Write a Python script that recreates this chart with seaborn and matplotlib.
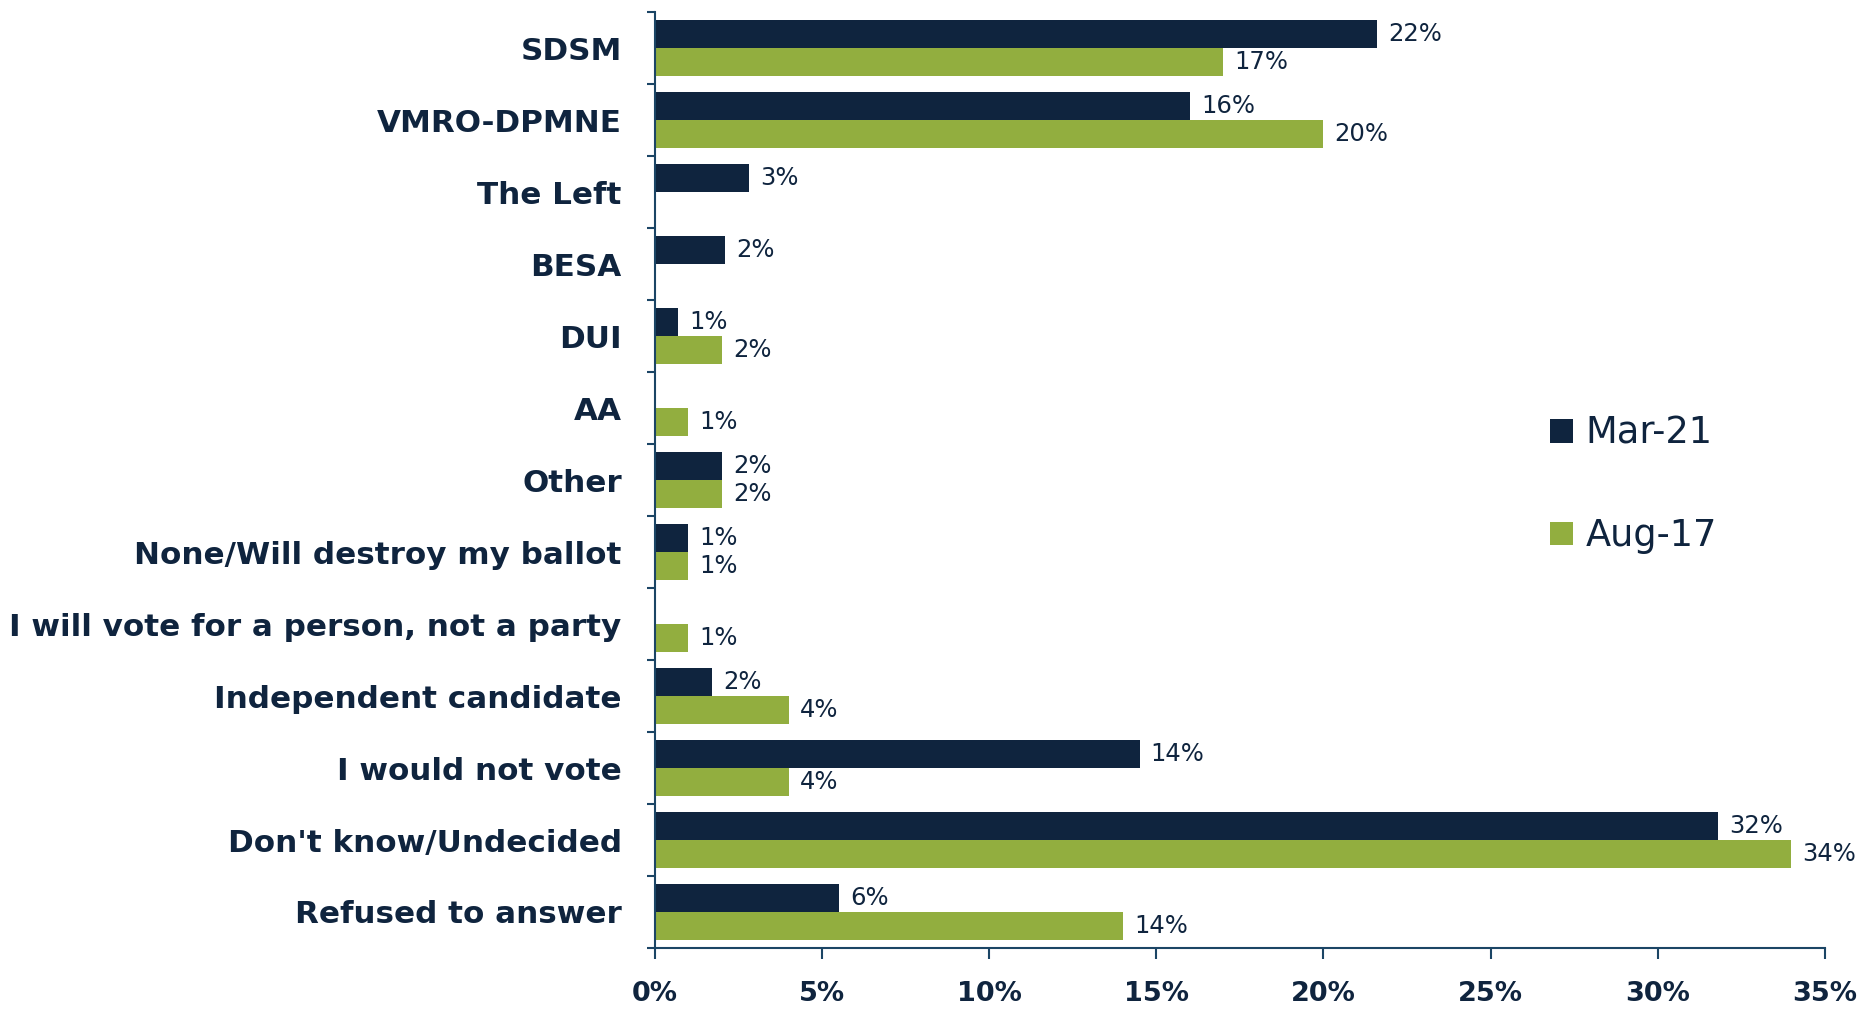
import pandas as pd
import matplotlib.pyplot as plt
import seaborn as sns
from matplotlib.ticker import FixedLocator

# === data ===
categories = [
    "SDSM", "VMRO-DPMNE", "The Left", "BESA", "DUI", "AA", "Other",
    "None/Will destroy my ballot", "I will vote for a person, not a party",
    "Independent candidate", "I would not vote", "Don't know/Undecided",
    "Refused to answer",
]
series = ["Mar-21", "Aug-17"]
mar21 = [21.6, 16.0, 2.8, 2.1, 0.7, 0.0, 2.0, 1.0, 0.0, 1.7, 14.5, 31.8, 5.5]
aug17 = [17.0, 20.0, 0.0, 0.0, 2.0, 1.0, 2.0, 1.0, 1.0, 4.0, 4.0, 34.0, 14.0]
mar21_labels = ["22%", "16%", "3%", "2%", "1%", "", "2%", "1%", "", "2%", "14%", "32%", "6%"]
aug17_labels = ["17%", "20%", "", "", "2%", "1%", "2%", "1%", "1%", "4%", "4%", "34%", "14%"]
x_ticks = [0, 5, 10, 15, 20, 25, 30, 35]

navy = "#0F243E"
green = "#92AE3F"
spine = "#1B4565"

df = pd.DataFrame({
    "party": categories * 2,
    "share": mar21 + aug17,
    "wave": ["Mar-21"] * len(categories) + ["Aug-17"] * len(categories),
})

sns.set_theme(style="ticks")
plt.rcParams["font.family"] = ["DejaVu Sans"]

fig, ax = plt.subplots(figsize=(18.64, 10.10), dpi=100)
fig.subplots_adjust(left=0.3514, right=0.979, top=0.988, bottom=0.0614)

sns.barplot(data=df, y="party", x="share", hue="wave", order=categories,
            hue_order=series, palette=[navy, green], saturation=1,
            width=0.77, orient="h", linewidth=0, ax=ax)

# value labels next to each bar
label_sets = {"Mar-21": mar21_labels, "Aug-17": aug17_labels}
for cont, name in zip(ax.containers, series):
    texts = []
    for bar in cont:
        idx = int(round(bar.get_y() + bar.get_height() / 2))
        texts.append(label_sets[name][idx])
    ax.bar_label(cont, labels=texts, padding=8, fontsize=17.5, color=navy)

# axes styling
ax.set_xlim(0, 35)
ax.set_xticks(x_ticks)
ax.set_xticklabels([f"{t}%" for t in x_ticks], fontweight="bold",
                   fontsize=19.5, color=navy)
ax.set_xlabel("")
ax.set_ylabel("")
ax.set_ylim(len(categories) - 0.5, -0.5)
ax.yaxis.set_minor_locator(FixedLocator([i - 0.5 for i in range(len(categories) + 1)]))
ax.tick_params(axis="y", which="major", length=0, pad=24)
ax.tick_params(axis="y", which="minor", length=6, width=1.5, color=spine)
ax.tick_params(axis="x", which="major", length=8, width=1.5, color=spine, pad=16)
for lbl in ax.get_yticklabels():
    lbl.set_fontsize(22.3)
    lbl.set_fontweight("bold")
    lbl.set_color(navy)
sns.despine(ax=ax)
for side in ("left", "bottom"):
    ax.spines[side].set_color(spine)
    ax.spines[side].set_linewidth(1.5)

handles, labels = ax.get_legend_handles_labels()
ax.legend(handles, labels, loc="upper left", bbox_to_anchor=(0.814, 0.622),
          bbox_transform=fig.transFigure, frameon=False, fontsize=26.5,
          handlelength=0.6, handleheight=0.6, handletextpad=0.35,
          labelspacing=1.78, labelcolor=navy)

fig.savefig("out.png", dpi=100)
